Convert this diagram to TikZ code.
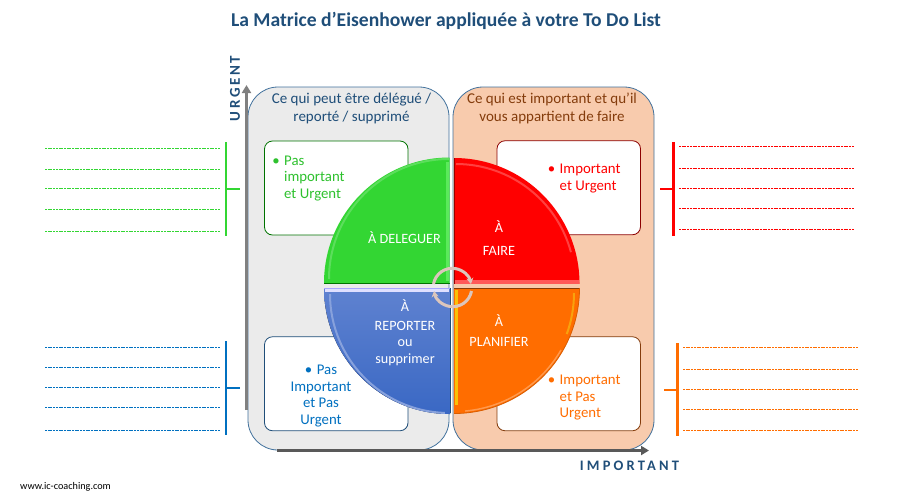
\documentclass[tikz,border=0pt]{standalone}
\usepackage{fontspec}
\setmainfont{Carlito}
\usepackage{xcolor}
\usetikzlibrary{arrows.meta,positioning}
\definecolor{navy}{HTML}{1F4E79}
\definecolor{rust}{HTML}{843C0C}
\definecolor{vert}{HTML}{33D633}
\definecolor{rouge}{HTML}{FF0000}
\definecolor{bleu}{HTML}{0070C0}
\definecolor{orange}{HTML}{FF6D00}
\definecolor{cadre}{HTML}{41719C}
\definecolor{fleche}{HTML}{DCC6BC}
\tikzset{
    panel/.style={draw=cadre, line width=0.8pt, rounded corners=30pt, minimum width=201pt, minimum height=363pt, inner sep=0pt},
    taskbox/.style={draw=#1, fill=white, line width=0.8pt, rounded corners=8pt, minimum width=143.5pt, minimum height=94pt, inner sep=0pt},
    head/.style={font=\fontsize{15}{18}\selectfont, align=center, inner sep=0pt},
    item/.style={font=\fontsize{14.8}{16.6}\selectfont, inner sep=0pt},
    tag/.style={font=\fontsize{14.2}{16.6}\selectfont, text=white, align=center, inner sep=0pt},
    bracket/.style={line width=2.6pt},
    guide/.style={line width=0.7pt, dash pattern=on 2pt off 0.7pt},
    axis/.style={line width=3pt, -{Triangle[length=8pt,width=9pt]}},
    turn/.style={draw=fleche, line width=3pt, -{Stealth[length=6pt,width=7pt]}},
}
\newcommand{\puce}{\llap{\textbullet\hspace{4.5pt}}}
\begin{document}
\begin{tikzpicture}[x=1pt,y=1pt,yscale=-1]
    \useasboundingbox (0,0) rectangle (897,499);
    \node[font=\fontsize{19.6}{22}\selectfont\bfseries, text=navy, inner sep=0pt] (title) at (446,21) {La Matrice d’Eisenhower appliquée à votre To Do List};

    % Panels
    \node[panel, fill=black!8] (gauche) at (348.5,268.5) {};
    \node[panel, fill={rgb,255:red,248;green,203;blue,173}] (droite) at (553.5,268.5) {};
    \node[head, text=navy] (delegue) at (351.5,108) {Ce qui peut être délégué /\\reporté / supprimé};
    \node[head, text=rust] (appartient) at (552,108) {Ce qui est important et qu’il\\vous appartient de faire};

    % Axes
    \coordinate (ybas) at (246.5,410);
    \coordinate (yhaut) at (246.5,85);
    \coordinate (xgauche) at (277,450.5);
    \coordinate (xdroite) at (649,450.5);
    \draw[axis, draw=black!50, black!50] (ybas) -- (yhaut);
    \draw[axis, draw=black!65, black!65] (xgauche) -- (xdroite);
    \node[font=\fontsize{15}{16}\selectfont\bfseries\addfontfeatures{LetterSpace=18}, text=navy, rotate=90, inner sep=0pt] (urgent) at (235,88.5) {URGENT};
    \node[font=\fontsize{14.5}{16}\selectfont\bfseries\addfontfeatures{LetterSpace=22}, text=navy, inner sep=0pt] (important) at (629.5,465.5) {IMPORTANT};

    % Boxes
    \node[taskbox={green!45!black}] (boxvert) at (336.25,188) {};
    \node[taskbox={red!55!black}] (boxrouge) at (568.75,187.75) {};
    \node[taskbox=navy] (boxbleu) at (336.25,383.75) {};
    \node[taskbox=rust] (boxorange) at (568.75,383.75) {};
    \node[item, text=vert!90!black, align=left, anchor=north west] (txtvert) at (284,155.5) {\puce Pas\\important\\et Urgent};
    \node[item, text=rouge, align=left, anchor=north west] (txtrouge) at (559.5,164) {\puce Important\\et Urgent};
    \node[item, text=bleu, align=center] (txtbleu) at (321,396) {\textbullet\hspace{4.5pt}Pas\\Important\\et Pas\\Urgent};
    \node[item, text=orange, align=left, anchor=north west] (txtorange) at (559.5,375) {\puce Important\\et Pas\\Urgent};

    % Green quarter
    \fill[vert] (449.5,283) -- (324,283) arc[start angle=180,end angle=270,radius=125.5] -- cycle;
    \draw[line width=3pt, green!30!vert!75!white] (447.5,162) -- (447.5,281);
    \draw[line width=2pt, vert!80!white] (329,279) arc[start angle=180,end angle=270,radius=120];
    \draw[line width=1pt, green!45!black] (324,283) -- (449.5,283);

    % Red quarter
    \fill[rouge] (454,283.5) -- (454,158) arc[start angle=-90,end angle=0,radius=125.5] -- cycle;
    \fill[red!65!white] (454,279.5) rectangle (579,283.5);
    \draw[line width=2pt, red!75!white] (456,164) arc[start angle=-90,end angle=-15,radius=119];
    \draw[line width=0.8pt, red!60!black] (454,158) -- (454,283.5);

    % Blue quarter
    \definecolor{bleuhaut}{HTML}{5F82D0}
    \definecolor{bleubas}{HTML}{3A68C4}
    \fill[top color=bleuhaut, bottom color=bleubas] (450,288) -- (324,288) arc[start angle=180,end angle=90,radius=126] -- cycle;
    \fill[blue!12!white] (325,289) rectangle (449,292);
    \draw[line width=2pt, bleuhaut!75!white] (330,294) arc[start angle=180,end angle=92,radius=119];
    \draw[line width=0.8pt, blue!35!white] (324,288) -- (450,288);
    \draw[line width=0.8pt, navy] (450,288) -- (450,413);

    % Orange quarter
    \fill[orange] (454,288) -- (579.5,288) arc[start angle=0,end angle=90,radius=125.5] -- (454,288);
    \fill[yellow!60!orange] (455,290) rectangle (458,405);
    \draw[line width=2pt, yellow!35!orange] (574,293) arc[start angle=0,end angle=20,radius=120];
    \draw[line width=1.5pt, orange!70!white] (561,350) arc[start angle=30,end angle=85,radius=123];
    \draw[line width=0.8pt, rust] (454,288) -- (579.5,288);
    \draw[line width=0.8pt, orange!85!black] (579.5,288) arc[start angle=0,end angle=90,radius=125.5];

    % Tags
    \node[tag] (adeleguer) at (404.5,238) {À DELEGUER};
    \node[tag] (afaire) at (499,227) {À};
    \node[tag] (faire) at (499,251) {FAIRE};
    \node[tag] (areporter) at (405,306) {À};
    \node[tag] (reporter) at (405,343.5) {REPORTER\\ou\\supprimer};
    \node[tag] (aplanifier) at (499,321) {À};
    \node[tag] (planifier) at (499,342) {PLANIFIER};

    % Turn arrows
    \draw[turn] (433.5,284) arc[start angle=190,end angle=350,radius=19];
    \draw[turn] (471.5,291) arc[start angle=10,end angle=170,radius=19];

    % Left lists
    \draw[bracket, vert] (226,142) -- (226,236);
    \draw[bracket, vert] (226,189) -- (240,189);
    \foreach \ypos in {148.5,169.5,188.5,209.5,231.5}
        \draw[guide, vert] (45,\ypos) -- (220,\ypos);
    \draw[bracket, bleu] (226,341) -- (226,435);
    \draw[bracket, bleu] (226,388) -- (240,388);
    \foreach \ypos in {347.5,367.5,387.5,407.5,430.5}
        \draw[guide, bleu] (45,\ypos) -- (220,\ypos);

    % Right lists
    \draw[bracket, rouge] (673.5,142) -- (673.5,236);
    \draw[bracket, rouge] (660,189) -- (673.5,189);
    \foreach \ypos in {146.5,168.5,188.5,208.5,229.5}
        \draw[guide, rouge] (679,\ypos) -- (854,\ypos);
    \draw[bracket, orange] (677.5,343) -- (677.5,436);
    \draw[bracket, orange] (664,390) -- (677.5,390);
    \foreach \ypos in {347.5,369.5,389.5,409.5,430.5}
        \draw[guide, orange] (683,\ypos) -- (858,\ypos);

    \node[font=\fontsize{10.2}{11}\selectfont, inner sep=0pt, anchor=west] (site) at (20,487) {www.ic-coaching.com};
\end{tikzpicture}
\end{document}
